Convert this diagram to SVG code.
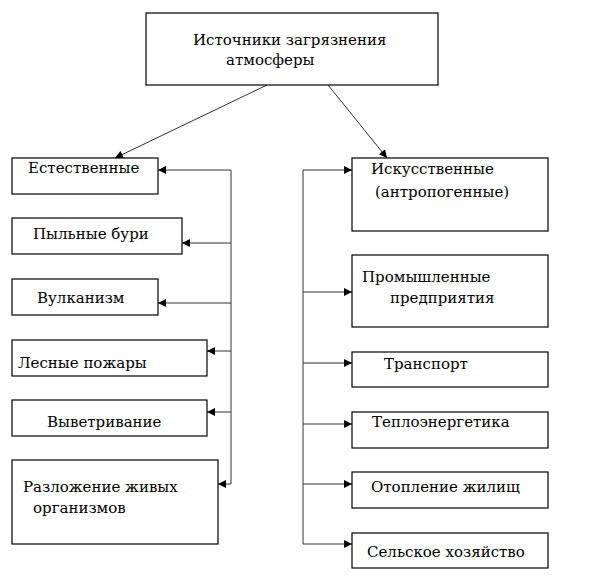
<svg xmlns="http://www.w3.org/2000/svg" width="601" height="580" viewBox="0 0 601 580">
<style>
.box{fill:#fff;stroke:#000;stroke-width:1.2}
.c{fill:none;stroke:#333;stroke-width:1}
</style>
<defs>
<marker id="ah" viewBox="0 0 10 10" refX="10" refY="5" markerWidth="9" markerHeight="8" markerUnits="userSpaceOnUse" orient="auto">
<path d="M0,0 L10,5 L0,10 z" fill="#000"/>
</marker>
</defs>
<rect width="601" height="580" fill="#fff"/>
<g id="connectors">
<line class="c" x1="267" y1="85" x2="115" y2="158" marker-end="url(#ah)"/>
<line class="c" x1="328" y1="85" x2="387" y2="158" marker-end="url(#ah)"/>
<polyline class="c" points="231,170 231,484"/>
<line class="c" x1="231" y1="170" x2="158" y2="170" marker-end="url(#ah)"/>
<line class="c" x1="231" y1="243" x2="182" y2="243" marker-end="url(#ah)"/>
<line class="c" x1="231" y1="303" x2="158" y2="303" marker-end="url(#ah)"/>
<line class="c" x1="231" y1="351" x2="207" y2="351" marker-end="url(#ah)"/>
<line class="c" x1="231" y1="412" x2="207" y2="412" marker-end="url(#ah)"/>
<line class="c" x1="231" y1="484" x2="218" y2="484" marker-end="url(#ah)"/>
<polyline class="c" points="303,170 303,544"/>
<line class="c" x1="303" y1="170" x2="352" y2="170" marker-end="url(#ah)"/>
<line class="c" x1="303" y1="292" x2="352" y2="292" marker-end="url(#ah)"/>
<line class="c" x1="303" y1="363" x2="352" y2="363" marker-end="url(#ah)"/>
<line class="c" x1="303" y1="424" x2="352" y2="424" marker-end="url(#ah)"/>
<line class="c" x1="303" y1="484" x2="352" y2="484" marker-end="url(#ah)"/>
<line class="c" x1="303" y1="544" x2="352" y2="544" marker-end="url(#ah)"/>
</g>
<g font-family="DejaVu Serif, serif" font-size="15" fill="#000">
<g id="root">
<rect class="box" x="146" y="13" width="292" height="72"/>
<text x="193" y="45">Источники загрязнения</text>
<text x="226" y="65">атмосферы</text>
</g>
<g id="natural">
<rect class="box" x="12" y="158" width="146" height="36"/>
<text x="28" y="173">Естественные</text>
</g>
<g id="dust">
<rect class="box" x="12" y="218" width="170" height="36"/>
<text x="33" y="239">Пыльные бури</text>
</g>
<g id="volcano">
<rect class="box" x="12" y="279" width="146" height="36"/>
<text x="37" y="303">Вулканизм</text>
</g>
<g id="fires">
<rect class="box" x="12" y="340" width="195" height="36"/>
<text x="18" y="368">Лесные пожары</text>
</g>
<g id="weathering">
<rect class="box" x="12" y="400" width="195" height="36"/>
<text x="47" y="427">Выветривание</text>
</g>
<g id="decay">
<rect class="box" x="12" y="460" width="206" height="84"/>
<text x="23" y="492">Разложение живых</text>
<text x="33" y="513">организмов</text>
</g>
<g id="artificial">
<rect class="box" x="352" y="158" width="196" height="73"/>
<text x="371" y="174">Искусственные</text>
<text x="375" y="197">(антропогенные)</text>
</g>
<g id="industry">
<rect class="box" x="352" y="255" width="196" height="72"/>
<text x="362" y="282">Промышленные</text>
<text x="390" y="303">предприятия</text>
</g>
<g id="transport">
<rect class="box" x="352" y="352" width="196" height="35"/>
<text x="384" y="369">Транспорт</text>
</g>
<g id="heat">
<rect class="box" x="352" y="412" width="196" height="36"/>
<text x="372" y="427">Теплоэнергетика</text>
</g>
<g id="housing">
<rect class="box" x="352" y="472" width="196" height="36"/>
<text x="371" y="492">Отопление жилищ</text>
</g>
<g id="agri">
<rect class="box" x="352" y="533" width="196" height="35"/>
<text x="367" y="557">Сельское хозяйство</text>
</g>
</g>
</svg>
